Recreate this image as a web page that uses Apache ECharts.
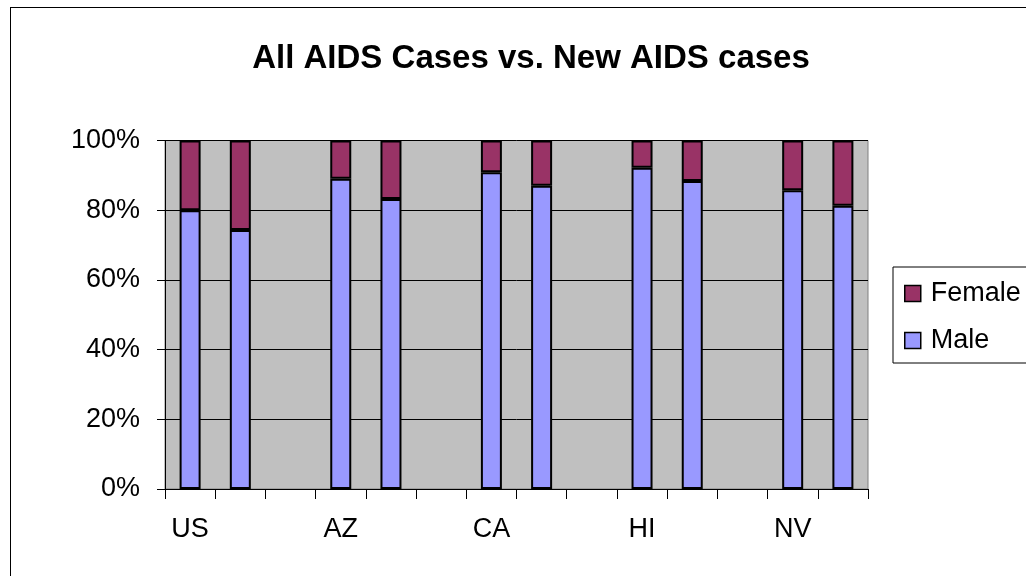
<!DOCTYPE html>
<html>
<head>
<meta charset="utf-8">
<script src="https://cdn.jsdelivr.net/npm/echarts@6/dist/echarts.min.js"></script>
<style>
    body { margin: 0; background: linear-gradient(100deg, #e8e7cf 0%, #efedd8 40%, #e4e6d0 100%); }
    .panel {
        position: absolute; left: 10px; top: 7px; width: 1100px; height: 700px;
        background: #fff; border: 1.5px solid #000;
    }
    #chart { position: absolute; left: 0; top: 0; width: 1026px; height: 576px; }
</style>
</head>
<body>
<div class="panel"></div>
<div id="chart"></div>
<script>
// percent of cases, first bar = all cases, second bar = new cases
const states = ['US', 'AZ', 'CA', 'HI', 'NV']
const allMale = [80.0, 89.0, 90.9, 92.2, 85.7]
const allFemale = [20.0, 11.0, 9.1, 7.8, 14.3]
const newMale = [74.3, 83.2, 87.0, 88.4, 81.3]
const newFemale = [25.7, 16.8, 13.0, 11.6, 18.7]

// two bars per state then an empty slot (none after the last one)
const categories = []
const male = []
const female = []
states.forEach((s, i) => {
    categories.push(s, ' ')
    male.push(allMale[i], newMale[i])
    female.push(allFemale[i], newFemale[i])
    if (i < states.length - 1) {
        categories.push('  ')
        male.push(null)
        female.push(null)
    }
})
const labelOf = (v) => states.includes(v) ? v : ''

const font = 'Liberation Sans'
const myChart = echarts.init(document.getElementById('chart'))

const option = {
    animation: false,
    title: {
        text: 'All AIDS Cases vs. New AIDS cases',
        left: 526,
        top: 37,
        textAlign: 'center',
        textStyle: { fontFamily: font, fontSize: 33, fontWeight: 'bold', color: '#000' }
    },
    legend: {
        orient: 'vertical',
        left: 893,
        top: 267,
        padding: [13, 40, 9, 11],
        itemWidth: 16,
        itemHeight: 16,
        itemGap: 20,
        backgroundColor: '#fff',
        borderColor: '#000',
        borderWidth: 1,
        borderRadius: 0,
        data: [
            { name: 'Female', icon: 'rect' },
            { name: 'Male', icon: 'rect' }
        ],
        itemStyle: { borderColor: '#000', borderWidth: 1.5 },
        textStyle: { fontFamily: font, fontSize: 27, color: '#000', padding: [0, 0, 0, 5] }
    },
    grid: {
        left: 165,
        top: 140.5,
        right: 158,
        bottom: 87,
        show: true,
        backgroundColor: '#C0C0C0',
        borderColor: '#808080',
        borderWidth: 1
    },
    xAxis: {
        type: 'category',
        data: categories,
        axisLine: { lineStyle: { color: '#000', width: 1 } },
        axisTick: { show: true, interval: 0, length: 10, lineStyle: { color: '#000' } },
        axisLabel: {
            interval: 0,
            margin: 27,
            formatter: labelOf,
            fontFamily: font,
            fontSize: 27,
            color: '#000'
        }
    },
    yAxis: {
        type: 'value',
        min: 0,
        max: 100,
        interval: 20,
        axisLine: { show: true, lineStyle: { color: '#000', width: 1 } },
        axisTick: { show: true, length: 8, lineStyle: { color: '#000' } },
        axisLabel: {
            margin: 25,
            formatter: '{value}%',
            fontFamily: font,
            fontSize: 27,
            color: '#000'
        },
        splitLine: { show: true, lineStyle: { color: '#000', width: 1 } }
    },
    series: [
        {
            name: 'Male',
            type: 'bar',
            stack: 'total',
            data: male,
            barWidth: 21,
            itemStyle: { color: '#9999FF', borderColor: '#000', borderWidth: 2 }
        },
        {
            name: 'Female',
            type: 'bar',
            stack: 'total',
            data: female,
            barWidth: 21,
            itemStyle: { color: '#993366', borderColor: '#000', borderWidth: 2 }
        }
    ]
}
myChart.setOption(option)
</script>
</body>
</html>
